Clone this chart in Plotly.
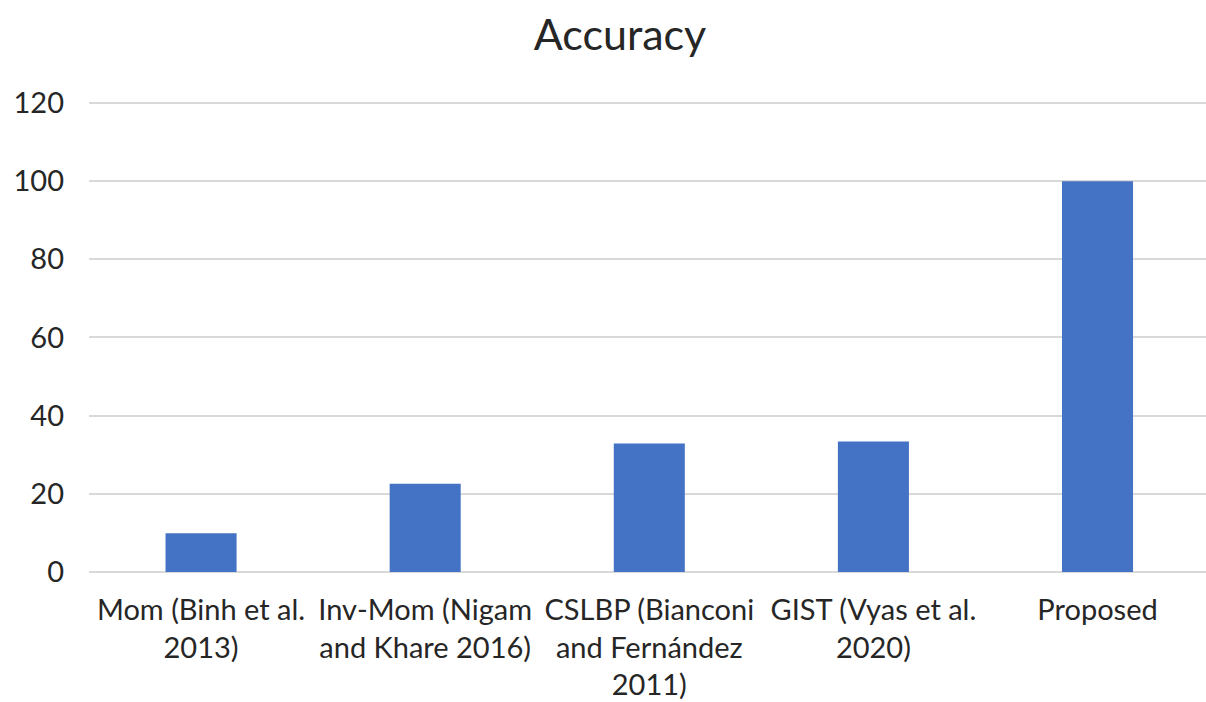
import plotly.graph_objects as go

categories = [
    "Mom (Binh et al.<br>2013)",
    "Inv-Mom (Nigam<br>and Khare 2016)",
    "CSLBP (Bianconi<br>and Fernández<br>2011)",
    "GIST (Vyas et al.<br>2020)",
    "Proposed",
]
accuracy = [9.9, 22.6, 32.9, 33.4, 100]
y_ticks = [0, 20, 40, 60, 80, 100, 120]

fig = go.Figure(
    go.Bar(
        x=list(range(len(categories))),
        y=accuracy,
        marker=dict(color="#4472C4", line=dict(width=0)),
        width=0.317,
    )
)

fig.update_layout(
    width=1206,
    height=702,
    margin=dict(l=89, r=0, t=101, b=130),
    paper_bgcolor="white",
    plot_bgcolor="white",
    showlegend=False,
    font=dict(family="Lato, Open Sans, sans-serif", color="#404040"),
    title=dict(
        text="Accuracy",
        x=620 / 1206,
        xanchor="center",
        xref="container",
        y=1 - 35 / 702,
        yanchor="middle",
        yref="container",
        font=dict(size=43, color="#262626"),
    ),
)

fig.update_xaxes(
    tickmode="array",
    tickvals=list(range(len(categories))),
    ticktext=categories,
    range=[-0.5, 4.484],
    showgrid=False,
    showline=False,
    zeroline=False,
    ticks="",
    tickfont=dict(size=29, color="#262626"),
    ticklabelstandoff=18,
)

fig.update_yaxes(
    range=[0, 120.5],
    tickmode="array",
    tickvals=y_ticks,
    showgrid=True,
    gridcolor="#D9D9D9",
    gridwidth=2,
    zeroline=True,
    zerolinecolor="#D9D9D9",
    zerolinewidth=2,
    showline=False,
    ticks="",
    tickfont=dict(size=29, color="#262626"),
    ticklabelstandoff=24,
)

fig.write_html("out.html")
